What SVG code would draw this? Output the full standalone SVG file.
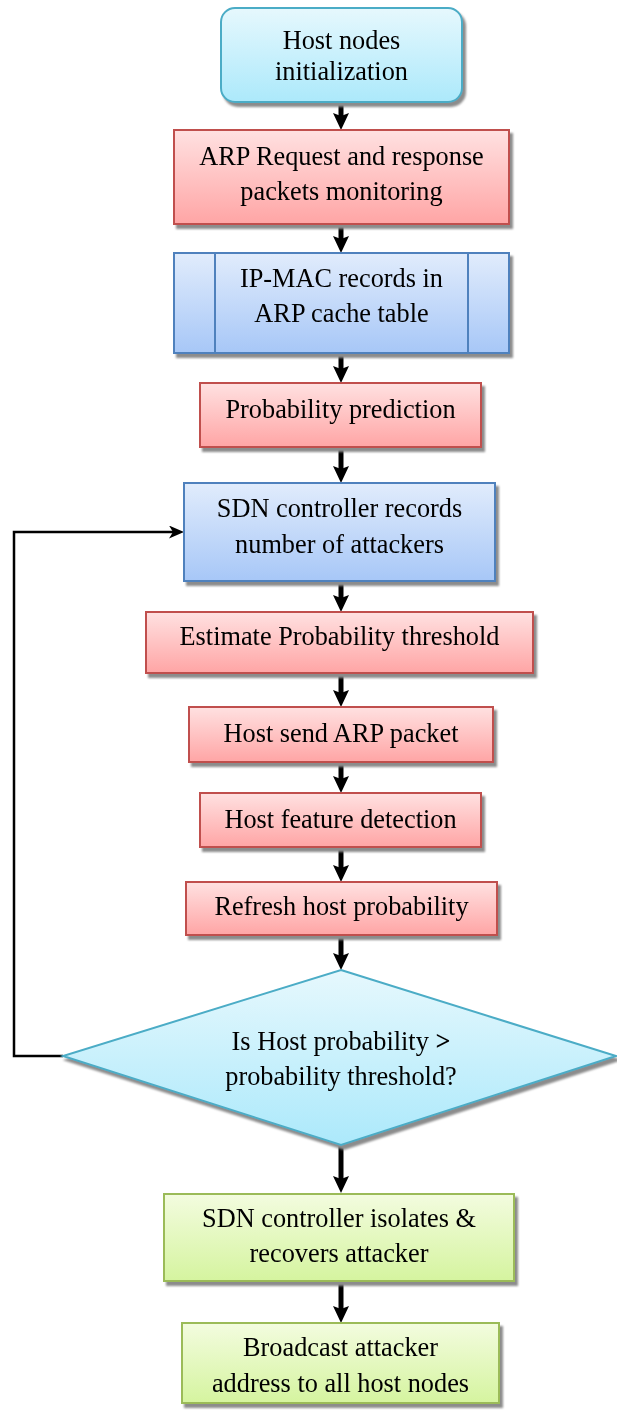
<svg xmlns="http://www.w3.org/2000/svg" width="617" height="1411" viewBox="0 0 617 1411">
  <defs>
    <linearGradient id="gCyan" x1="0" y1="0" x2="0" y2="1">
      <stop offset="0" stop-color="#e6f8fd"/>
      <stop offset="1" stop-color="#ace9fb"/>
    </linearGradient>
    <linearGradient id="gRed" x1="0" y1="0" x2="0" y2="1">
      <stop offset="0" stop-color="#ffe1e1"/>
      <stop offset="1" stop-color="#ffa5a5"/>
    </linearGradient>
    <linearGradient id="gBlue" x1="0" y1="0" x2="0" y2="1">
      <stop offset="0" stop-color="#e1ecfc"/>
      <stop offset="1" stop-color="#a7c7f7"/>
    </linearGradient>
    <linearGradient id="gGreen" x1="0" y1="0" x2="0" y2="1">
      <stop offset="0" stop-color="#f3fcdf"/>
      <stop offset="1" stop-color="#d5f49f"/>
    </linearGradient>
    <filter id="shadow" x="-5%" y="-5%" width="115%" height="120%">
      <feGaussianBlur in="SourceAlpha" stdDeviation="0.8" result="b"/>
      <feOffset in="b" dx="3" dy="4" result="o"/>
      <feFlood flood-color="#8c8c8c"/>
      <feComposite in2="o" operator="in" result="s"/>
      <feMerge>
        <feMergeNode in="s"/>
        <feMergeNode in="SourceGraphic"/>
      </feMerge>
    </filter>
    <marker id="headBig" markerUnits="userSpaceOnUse" viewBox="0 0 17 16" markerWidth="17" markerHeight="16" refX="6" refY="8" orient="auto">
      <path d="M0,0 L17,8 L0,16 L3,8 z" fill="#000"/>
    </marker>
    <marker id="headSmall" markerUnits="userSpaceOnUse" viewBox="0 0 15 13" markerWidth="15" markerHeight="13" refX="4" refY="6.5" orient="auto">
      <path d="M0,0 L15,6.5 L0,13 L4,6.5 z" fill="#000"/>
    </marker>
    <style>
      text { font-family: "Liberation Serif", "Times New Roman", serif; font-size: 26.3px; fill: #000; text-anchor: middle; }
      .cyan { fill: url(#gCyan); stroke: #4bacc6; stroke-width: 2; }
      .red { fill: url(#gRed); stroke: #c0504d; stroke-width: 2; }
      .blue { fill: url(#gBlue); stroke: #4f81bd; stroke-width: 2; }
      .green { fill: url(#gGreen); stroke: #9bbb59; stroke-width: 2; }
      .flow { fill: none; stroke: #000; stroke-width: 5; marker-end: url(#headBig); }
      .loop { fill: none; stroke: #000; stroke-width: 2.5; marker-end: url(#headSmall); }
    </style>
  </defs>

  <!-- connectors -->
  <g id="connectors">
    <line class="flow" x1="341" y1="102" x2="341" y2="119"/>
    <line class="flow" x1="341" y1="224" x2="341" y2="242"/>
    <line class="flow" x1="341" y1="353" x2="341" y2="372"/>
    <line class="flow" x1="341" y1="447" x2="341" y2="472"/>
    <line class="flow" x1="341" y1="581" x2="341" y2="601"/>
    <line class="flow" x1="341" y1="673" x2="341" y2="696"/>
    <line class="flow" x1="341" y1="762" x2="341" y2="782"/>
    <line class="flow" x1="341" y1="847" x2="341" y2="871"/>
    <line class="flow" x1="341" y1="935" x2="341" y2="959"/>
    <line class="flow" x1="341" y1="1145" x2="341" y2="1182"/>
    <line class="flow" x1="341" y1="1281" x2="341" y2="1312"/>
    <polyline class="loop" points="63,1056 14,1056 14,532 173,532"/>
  </g>

  <g id="n1" filter="url(#shadow)">
    <rect class="cyan" x="221" y="8" width="241" height="94" rx="14" ry="14"/>
    <text x="341.5" y="49">Host nodes</text>
    <text x="341.5" y="80">initialization</text>
  </g>

  <g id="n2" filter="url(#shadow)">
    <rect class="red" x="174" y="130" width="335" height="94"/>
    <text x="341.5" y="165">ARP Request and response</text>
    <text x="341.5" y="200">packets monitoring</text>
  </g>

  <g id="n3" filter="url(#shadow)">
    <rect class="blue" x="174" y="253" width="335" height="100"/>
    <line x1="215" y1="253" x2="215" y2="353" stroke="#4f81bd" stroke-width="2"/>
    <line x1="468" y1="253" x2="468" y2="353" stroke="#4f81bd" stroke-width="2"/>
    <text x="341.5" y="287">IP-MAC records in</text>
    <text x="341.5" y="322">ARP cache table</text>
  </g>

  <g id="n4" filter="url(#shadow)">
    <rect class="red" x="200" y="383" width="281" height="64"/>
    <text x="340.5" y="418">Probability prediction</text>
  </g>

  <g id="n5" filter="url(#shadow)">
    <rect class="blue" x="184" y="483" width="311" height="98"/>
    <text x="339.5" y="517">SDN controller records</text>
    <text x="339.5" y="553">number of attackers</text>
  </g>

  <g id="n6" filter="url(#shadow)">
    <rect class="red" x="146" y="612" width="387" height="61"/>
    <text x="339.5" y="645">Estimate Probability threshold</text>
  </g>

  <g id="n7" filter="url(#shadow)">
    <rect class="red" x="189" y="707" width="304" height="55"/>
    <text x="341" y="742">Host send ARP packet</text>
  </g>

  <g id="n8" filter="url(#shadow)">
    <rect class="red" x="200" y="793" width="281" height="54"/>
    <text x="340.5" y="828">Host feature detection</text>
  </g>

  <g id="n9" filter="url(#shadow)">
    <rect class="red" x="186" y="882" width="311" height="53"/>
    <text x="341.5" y="915">Refresh host probability</text>
  </g>

  <g id="n10" filter="url(#shadow)">
    <polygon class="cyan" points="341,970 616,1056 341,1145 63,1056"/>
    <text x="341" y="1050">Is Host probability <tspan font-weight="bold">&gt;</tspan></text>
    <text x="341" y="1085">probability threshold?</text>
  </g>

  <g id="n11" filter="url(#shadow)">
    <rect class="green" x="164" y="1194" width="350" height="87"/>
    <text x="339" y="1227">SDN controller isolates &amp;</text>
    <text x="339" y="1262">recovers attacker</text>
  </g>

  <g id="n12" filter="url(#shadow)">
    <rect class="green" x="182" y="1323" width="317" height="80"/>
    <text x="340.5" y="1356">Broadcast attacker</text>
    <text x="340.5" y="1392">address to all host nodes</text>
  </g>
</svg>
